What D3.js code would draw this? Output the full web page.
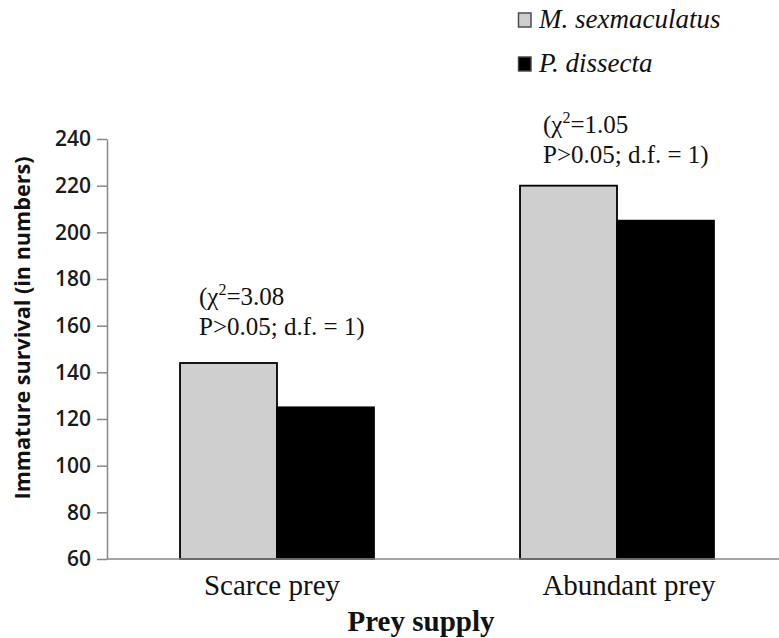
<!DOCTYPE html>
<html><head><meta charset="utf-8">
<script src="https://cdn.jsdelivr.net/npm/d3@7/dist/d3.min.js"></script>
<style>body{margin:0;background:#fff}</style>
</head><body>
<svg id="c" width="779" height="638"></svg>
<script>
const categories = ["Scarce prey", "Abundant prey"];
const series = ["M. sexmaculatus", "P. dissecta"];
const mValues = [144, 220];
const pValues = [125, 205];
const yTicks = [60, 80, 100, 120, 140, 160, 180, 200, 220, 240];
const chiLabels = ["3.08", "1.05"];

const svg = d3.select("#c");
const colors = {"M. sexmaculatus": "#cfcfcf", "P. dissecta": "#000"};
const y = d3.scaleLinear().domain([60, 240]).range([559, 139]);
const x0 = d3.scaleBand().domain(categories).range([107, 787]).padding(0);
const x1 = d3.scaleBand().domain(series).range([0, x0.bandwidth()]).paddingInner(0).paddingOuter(0.753);

const data = categories.map((c, i) => ({cat: c, vals: [{s: series[0], v: mValues[i]}, {s: series[1], v: pValues[i]}]}));

// bars
const g = svg.append("g");
data.forEach(d => {
  d.vals.forEach(b => {
    g.append("rect")
      .attr("x", x0(d.cat) + x1(b.s))
      .attr("y", y(b.v))
      .attr("width", x1.bandwidth())
      .attr("height", y(60) - y(b.v))
      .attr("fill", colors[b.s])
      .attr("stroke", "#000")
      .attr("stroke-width", 1.8);
  });
});

// y axis
const ya = svg.append("g").attr("transform", "translate(107,0)")
  .call(d3.axisLeft(y).tickValues(yTicks).tickSize(10).tickPadding(6).tickSizeOuter(0));
ya.select(".domain").attr("stroke", "#888").attr("stroke-width", 1.5);
ya.selectAll(".tick line").attr("stroke", "#888").attr("stroke-width", 1.5);
ya.selectAll(".tick text").attr("font-family", "Open Sans, sans-serif").attr("font-size", 21)
  .attr("font-weight", 600).attr("fill", "#1a1a1a");

// x axis line
svg.append("line").attr("x1", 107).attr("x2", 779).attr("y1", y(60)).attr("y2", y(60))
  .attr("stroke", "#888").attr("stroke-width", 1.5);

// category labels
const labelShift = [-5, 12];
svg.selectAll(".cl").data(categories).enter().append("text")
  .attr("x", (d, i) => x0(d) + x0.bandwidth() / 2 + labelShift[i])
  .attr("y", 595)
  .attr("text-anchor", "middle")
  .attr("font-family", "Liberation Serif, serif").attr("font-size", 29).attr("fill", "#111")
  .text(d => d);

svg.append("text").attr("x", 421).attr("y", 631).attr("text-anchor", "middle")
  .attr("font-family", "Liberation Serif, serif").attr("font-size", 29).attr("font-weight", "bold").attr("fill", "#111")
  .text("Prey supply");

svg.append("text").attr("transform", "translate(30,328) rotate(-90)").attr("text-anchor", "middle")
  .attr("font-family", "Open Sans, sans-serif").attr("font-size", 20.5).attr("font-weight", "bold").attr("fill", "#111")
  .attr("textLength", 343).attr("lengthAdjust", "spacingAndGlyphs")
  .text("Immature survival (in numbers)");

// annotations
const annX = [199, 543];
const annY = [305, 133];
categories.forEach((c, i) => {
  const t = svg.append("text").attr("x", annX[i]).attr("y", annY[i])
    .attr("font-family", "Liberation Serif, serif").attr("font-size", 25).attr("fill", "#111");
  t.append("tspan").text("(χ");
  t.append("tspan").attr("font-size", 16).attr("dy", -10).text("2");
  t.append("tspan").attr("dy", 10).text("=" + chiLabels[i]);
  svg.append("text").attr("x", annX[i]).attr("y", annY[i] + 30)
    .attr("font-family", "Liberation Serif, serif").attr("font-size", 25).attr("fill", "#111")
    .text("P>0.05; d.f. = 1)");
});

// legend
series.forEach((s, i) => {
  const ly = 28 + i * 44;
  svg.append("rect").attr("x", 518.5).attr("y", ly - 15).attr("width", 12.5).attr("height", 14)
    .attr("fill", colors[s]).attr("stroke", "#444").attr("stroke-width", 1.4);
  svg.append("text").attr("x", 539).attr("y", ly)
    .attr("font-family", "Liberation Serif, serif").attr("font-size", 27).attr("font-style", "italic").attr("fill", "#111")
    .text(s);
});
</script>
</body></html>
